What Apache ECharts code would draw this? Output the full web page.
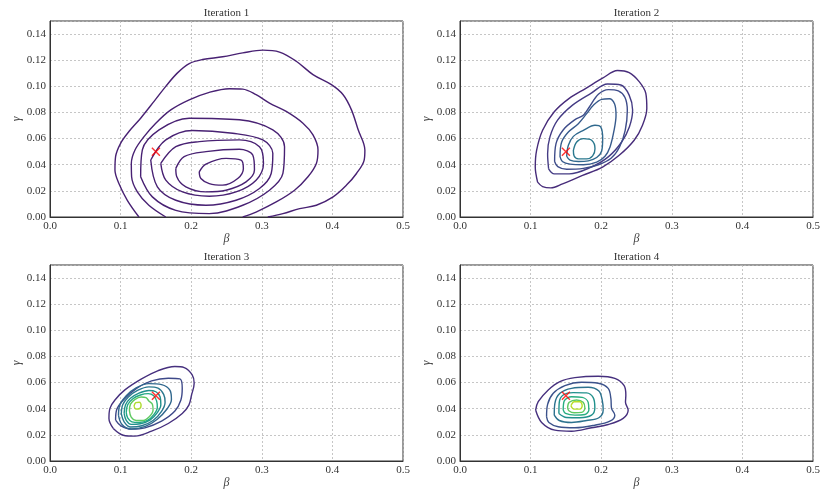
<!DOCTYPE html>
<html>
<head>
<meta charset="utf-8">
<script src="https://cdn.jsdelivr.net/npm/echarts@6/dist/echarts.min.js"></script>
<style>html,body{margin:0;padding:0;background:#fff}#c{width:830px;height:498px}</style>
</head>
<body>
<div id="c"></div>
<script>
// ---- data: contour paths [beta, gamma] ----
const titles = ['Iteration 1', 'Iteration 2', 'Iteration 3', 'Iteration 4'];
const xTicks = [0, 0.1, 0.2, 0.3, 0.4, 0.5];
const yTicks = [0, 0.02, 0.04, 0.06, 0.08, 0.10, 0.12, 0.14];
const truePoint = [0.15, 0.05];

// Iteration 1
const it1c1 = [[0.126,0.0],[0.1095,0.0128],[0.0976,0.0256],[0.092,0.0359],[0.0929,0.0462],[0.100,0.0564],[0.1118,0.0654],[0.1284,0.0756],[0.1474,0.0885],[0.164,0.100],[0.1806,0.1103],[0.1972,0.1174],[0.2161,0.1205],[0.2445,0.1226],[0.273,0.1256],[0.3014,0.1277],[0.3251,0.1262],[0.3488,0.1192],[0.3725,0.109],[0.3986,0.1013],[0.4152,0.0936],[0.427,0.082],[0.4365,0.0667],[0.446,0.0513],[0.445,0.0436],[0.4341,0.0333],[0.420,0.0244],[0.401,0.0154],[0.3773,0.009],[0.3536,0.0064],[0.3299,0.0026],[0.3085,0.0]];
const it1c2 = [[0.164,0.0],[0.140,0.009],[0.1237,0.0192],[0.1156,0.0308],[0.1152,0.041],[0.1204,0.0513],[0.1332,0.0615],[0.1498,0.0718],[0.1711,0.082],[0.1972,0.0897],[0.2256,0.0954],[0.254,0.0982],[0.273,0.0979],[0.2919,0.0936],[0.3109,0.0872],[0.3346,0.0808],[0.3583,0.0718],[0.3725,0.0628],[0.3796,0.0513],[0.3773,0.041],[0.3654,0.0308],[0.3464,0.0205],[0.3204,0.0115],[0.2919,0.0038],[0.273,0.0]];
const it1c3 = [[0.1284,0.0308],[0.1308,0.0513],[0.1545,0.0667],[0.1972,0.0756],[0.2682,0.0744],[0.3156,0.0667],[0.3322,0.0538],[0.3299,0.0333],[0.3109,0.0205],[0.273,0.009],[0.2256,0.0026],[0.1782,0.0051],[0.145,0.0154],[0.1284,0.0308]];
const it1c4 = [[0.1427,0.0436],[0.164,0.059],[0.2019,0.0662],[0.2588,0.0641],[0.3014,0.059],[0.3156,0.0487],[0.3133,0.0333],[0.2967,0.0218],[0.2635,0.0128],[0.2209,0.009],[0.1782,0.0128],[0.1521,0.0231],[0.1427,0.0436]];
const it1c5 = [[0.1569,0.041],[0.1782,0.0538],[0.2114,0.0577],[0.2682,0.059],[0.2967,0.0538],[0.3024,0.041],[0.2919,0.0282],[0.2635,0.0192],[0.2256,0.0159],[0.1877,0.0192],[0.164,0.0282],[0.1569,0.041]];
const it1c6 = [[0.1782,0.0372],[0.190,0.0462],[0.2209,0.050],[0.2682,0.0518],[0.2872,0.0474],[0.2896,0.0359],[0.2777,0.0269],[0.2493,0.0205],[0.2209,0.0192],[0.1924,0.0231],[0.1796,0.0308],[0.1782,0.0372]];
const it1c7 = [[0.2114,0.0346],[0.2209,0.0405],[0.2493,0.0449],[0.2706,0.0436],[0.2739,0.0372],[0.2659,0.0295],[0.2445,0.0244],[0.2256,0.0256],[0.2137,0.0295],[0.2114,0.0346]];

// Iteration 2
const it2c1 = [[0.1099,0.0267],[0.1066,0.0382],[0.1085,0.051],[0.117,0.0664],[0.1335,0.0805],[0.1547,0.0908],[0.1783,0.0985],[0.2019,0.1062],[0.2231,0.1121],[0.2396,0.1105],[0.2538,0.1036],[0.2632,0.0946],[0.2646,0.0831],[0.2585,0.0703],[0.2467,0.0587],[0.2255,0.0472],[0.2019,0.0382],[0.1736,0.0318],[0.1453,0.0254],[0.1288,0.0223],[0.117,0.0233],[0.1099,0.0267]];
const it2c2 = [[0.1255,0.0369],[0.1241,0.0485],[0.1274,0.0613],[0.1382,0.0741],[0.1594,0.0856],[0.1854,0.0946],[0.209,0.1018],[0.2278,0.101],[0.2396,0.0933],[0.2445,0.0818],[0.2400,0.069],[0.2290,0.0574],[0.2100,0.0460],[0.1850,0.0380],[0.1547,0.0330],[0.1335,0.0330],[0.1255,0.0369]];
const it2c3 = [[0.1340,0.0425],[0.136,0.0561],[0.1464,0.0668],[0.1629,0.0745],[0.1747,0.0778],[0.1832,0.0842],[0.196,0.0939],[0.2101,0.0975],[0.2243,0.0965],[0.2337,0.0915],[0.2370,0.0816],[0.2340,0.0663],[0.2260,0.0536],[0.2140,0.0450],[0.1960,0.0400],[0.1747,0.0372],[0.1511,0.0365],[0.1385,0.0385],[0.1340,0.0425]];
const it2c4 = [[0.1417,0.0462],[0.144,0.0574],[0.1535,0.065],[0.1676,0.0714],[0.1794,0.0791],[0.1889,0.0855],[0.2007,0.0900],[0.2115,0.0905],[0.2190,0.0865],[0.2210,0.0778],[0.2182,0.0663],[0.2125,0.0536],[0.2054,0.0465],[0.1936,0.0420],[0.1747,0.0400],[0.1558,0.0405],[0.1450,0.0425],[0.1417,0.0462]];
const it2c5 = [[0.1511,0.0465],[0.1535,0.0549],[0.1606,0.0617],[0.1747,0.0663],[0.1912,0.0702],[0.1993,0.0689],[0.2021,0.060],[0.2007,0.0505],[0.1936,0.0455],[0.1818,0.0430],[0.1676,0.0425],[0.1558,0.0435],[0.1511,0.0465]];
const it2c6 = [[0.1606,0.051],[0.1653,0.0574],[0.1747,0.060],[0.1865,0.0587],[0.1912,0.0523],[0.1879,0.0468],[0.1794,0.0445],[0.1676,0.0445],[0.1615,0.0468],[0.1606,0.051]];

// Iteration 3
const it3c1 = [[0.0896,0.0249],[0.0835,0.0326],[0.0849,0.0403],[0.092,0.0467],[0.1061,0.0544],[0.1297,0.0628],[0.1533,0.0692],[0.1769,0.0723],[0.1901,0.0715],[0.2014,0.0659],[0.2042,0.0595],[0.2005,0.0505],[0.1967,0.0428],[0.1873,0.0364],[0.1675,0.0287],[0.1439,0.0228],[0.1203,0.019],[0.1038,0.0197],[0.0896,0.0249]];
const it3c2 = [[0.0929,0.0313],[0.0943,0.039],[0.1038,0.0467],[0.1226,0.0556],[0.1439,0.0613],[0.1675,0.0633],[0.184,0.0628],[0.1873,0.0556],[0.1854,0.0467],[0.1769,0.0382],[0.158,0.0305],[0.1344,0.0254],[0.1156,0.0244],[0.1005,0.0269],[0.0929,0.0313]];
const it3c3 = [[0.097,0.035],[0.099,0.043],[0.108,0.050],[0.122,0.056],[0.140,0.0592],[0.158,0.0585],[0.170,0.054],[0.172,0.047],[0.166,0.040],[0.152,0.032],[0.135,0.0265],[0.115,0.0245],[0.102,0.028],[0.097,0.035]];
const it3c4 = [[0.101,0.036],[0.103,0.043],[0.111,0.049],[0.124,0.054],[0.140,0.0567],[0.153,0.0558],[0.161,0.051],[0.163,0.045],[0.158,0.038],[0.146,0.031],[0.130,0.027],[0.114,0.026],[0.105,0.030],[0.101,0.036]];
const it3c5 = [[0.105,0.0365],[0.107,0.043],[0.114,0.048],[0.126,0.052],[0.140,0.054],[0.150,0.053],[0.156,0.049],[0.157,0.043],[0.152,0.037],[0.142,0.0315],[0.128,0.0285],[0.115,0.028],[0.108,0.031],[0.105,0.0365]];
const it3c6 = [[0.108,0.037],[0.110,0.043],[0.117,0.0475],[0.128,0.0505],[0.139,0.0516],[0.147,0.050],[0.151,0.046],[0.152,0.041],[0.147,0.0355],[0.138,0.031],[0.126,0.0295],[0.116,0.030],[0.110,0.033],[0.108,0.037]];
const it3c7 = [[0.1125,0.0385],[0.114,0.0435],[0.120,0.047],[0.129,0.049],[0.136,0.0485],[0.140,0.046],[0.145,0.0435],[0.146,0.039],[0.141,0.034],[0.132,0.031],[0.122,0.031],[0.115,0.0335],[0.1125,0.0385]];
const it3c8 = [[0.1190,0.0420],[0.1215,0.0447],[0.1265,0.0450],[0.1290,0.0428],[0.1265,0.0400],[0.1215,0.0398],[0.1190,0.0420]];

// Iteration 4
const it4c1 = [[0.1071,0.039],[0.1108,0.0454],[0.125,0.0544],[0.1415,0.0608],[0.1627,0.0638],[0.1958,0.0649],[0.2193,0.0633],[0.2325,0.0577],[0.2349,0.0505],[0.2344,0.0449],[0.2382,0.039],[0.2311,0.0326],[0.2099,0.0279],[0.1863,0.0254],[0.158,0.0228],[0.1344,0.0236],[0.1156,0.0295],[0.1071,0.039]];
const it4c2 = [[0.1226,0.0338],[0.1241,0.0433],[0.1321,0.0518],[0.1486,0.0577],[0.1722,0.0603],[0.1958,0.0595],[0.2099,0.0556],[0.2137,0.0479],[0.2146,0.0403],[0.2193,0.0351],[0.2123,0.0305],[0.191,0.0274],[0.1627,0.0254],[0.1392,0.0262],[0.1259,0.0295],[0.1226,0.0338]];
const it4c3 = [[0.1335,0.0351],[0.1344,0.0441],[0.1415,0.0518],[0.158,0.0556],[0.1816,0.0564],[0.1967,0.0536],[0.2014,0.0467],[0.2028,0.039],[0.1967,0.0331],[0.1792,0.031],[0.158,0.0295],[0.1406,0.031],[0.1335,0.0351]];
const it4c4 = [[0.1401,0.0364],[0.1406,0.0449],[0.1462,0.0505],[0.1604,0.0523],[0.1792,0.0521],[0.1887,0.0485],[0.191,0.0408],[0.1863,0.0351],[0.1698,0.0331],[0.1509,0.0333],[0.1401,0.0364]];
const it4c5 = [[0.1462,0.039],[0.1476,0.0459],[0.158,0.0492],[0.1731,0.0487],[0.1816,0.0449],[0.1825,0.039],[0.1769,0.0356],[0.1627,0.0351],[0.1495,0.0364],[0.1462,0.039]];
const it4c6 = [[0.1524,0.0408],[0.1547,0.0449],[0.1651,0.0467],[0.1745,0.0449],[0.1769,0.0403],[0.1722,0.0372],[0.1618,0.0369],[0.1542,0.0385],[0.1524,0.0408]];
const it4c7 = [[0.1571,0.0423],[0.1618,0.0454],[0.1698,0.0454],[0.1731,0.0423],[0.1698,0.0397],[0.1613,0.0397],[0.1571,0.0423]];

const contours = [
  [it1c1, it1c2, it1c3, it1c4, it1c5, it1c6, it1c7],
  [it2c1, it2c2, it2c3, it2c4, it2c5, it2c6],
  [it3c1, it3c2, it3c3, it3c4, it3c5, it3c6, it3c7, it3c8],
  [it4c1, it4c2, it4c3, it4c4, it4c5, it4c6, it4c7]
];
const colors = [
  ['#482173','#482173','#482173','#482173','#482173','#482173','#482173'],
  ['#472c7a','#443b84','#3e4c8a','#375a8c','#30698e','#2a788e'],
  ['#46307e','#3e4989','#31688e','#2a788e','#21918c','#22a884','#5ec962','#addc30'],
  ['#46307e','#3b528b','#2c728e','#21918c','#28ae80','#5ec962','#b8de29']
];

// ---- layout ----
const FONT = 'Liberation Serif, DejaVu Serif, serif';
const grids = [
  {left: 50, top: 21, width: 353, height: 196},
  {left: 460, top: 21, width: 353, height: 196},
  {left: 50, top: 265, width: 353, height: 196},
  {left: 460, top: 265, width: 353, height: 196}
];

const xAxes = [], yAxes = [], series = [], titleOpts = [];
grids.forEach((g, i) => {
  g.show = true; g.borderColor = '#333'; g.borderWidth = 1; g.backgroundColor = '#fff';
  titleOpts.push({
    text: titles[i], left: g.left + g.width / 2, top: g.top - 13, textAlign: 'center', padding: 0,
    textStyle: {fontFamily: FONT, fontSize: 11, fontWeight: 'normal', color: '#333'}
  });
  xAxes.push({
    type: 'value', gridIndex: i, min: xTicks[0], max: xTicks[xTicks.length - 1], interval: 0.1,
    name: 'β', nameLocation: 'middle', nameGap: 16,
    nameTextStyle: {fontFamily: FONT, fontStyle: 'italic', fontSize: 12, color: '#444'},
    axisLine: {show: true, lineStyle: {color: '#333', width: 1}},
    axisTick: {show: false},
    axisLabel: {fontFamily: FONT, fontSize: 11, color: '#333', margin: 4,
      formatter: v => v.toFixed(1)},
    splitLine: {show: true, lineStyle: {color: '#b8b8b8', width: 0.8, type: [2, 2]}}
  });
  yAxes.push({
    type: 'value', gridIndex: i, min: yTicks[0], max: 0.15, interval: 0.02,
    name: 'γ', nameLocation: 'middle', nameGap: 24, nameRotate: 90,
    nameTextStyle: {fontFamily: FONT, fontStyle: 'italic', fontSize: 12, color: '#444'},
    axisLine: {show: true, lineStyle: {color: '#333', width: 1}},
    axisTick: {show: false},
    axisLabel: {fontFamily: FONT, fontSize: 11, color: '#333', margin: 4, showMaxLabel: false,
      formatter: v => (yTicks.some(t => Math.abs(t - v) < 1e-9) ? v.toFixed(2) : '')},
    splitLine: {show: true, lineStyle: {color: '#b8b8b8', width: 0.8, type: [2, 2]}}
  });
  contours[i].forEach((path, j) => {
    series.push({
      type: 'line', xAxisIndex: i, yAxisIndex: i, data: path,
      smooth: 0.35, showSymbol: false, silent: true, clip: true,
      lineStyle: {color: colors[i][j], width: 1.4}, z: 3
    });
  });
  series.push({
    type: 'scatter', xAxisIndex: i, yAxisIndex: i, data: [truePoint],
    symbol: 'path://M0,0L10,10M10,0L0,10', symbolSize: 8, silent: true, z: 10,
    itemStyle: {color: 'rgba(0,0,0,0)', borderColor: '#ff0000', borderWidth: 1.4}
  });
});

const chart = echarts.init(document.getElementById('c'), null, {renderer: 'canvas'});
chart.setOption({
  animation: false,
  backgroundColor: '#fff',
  title: titleOpts,
  grid: grids,
  xAxis: xAxes,
  yAxis: yAxes,
  series: series
});
</script>
</body>
</html>
